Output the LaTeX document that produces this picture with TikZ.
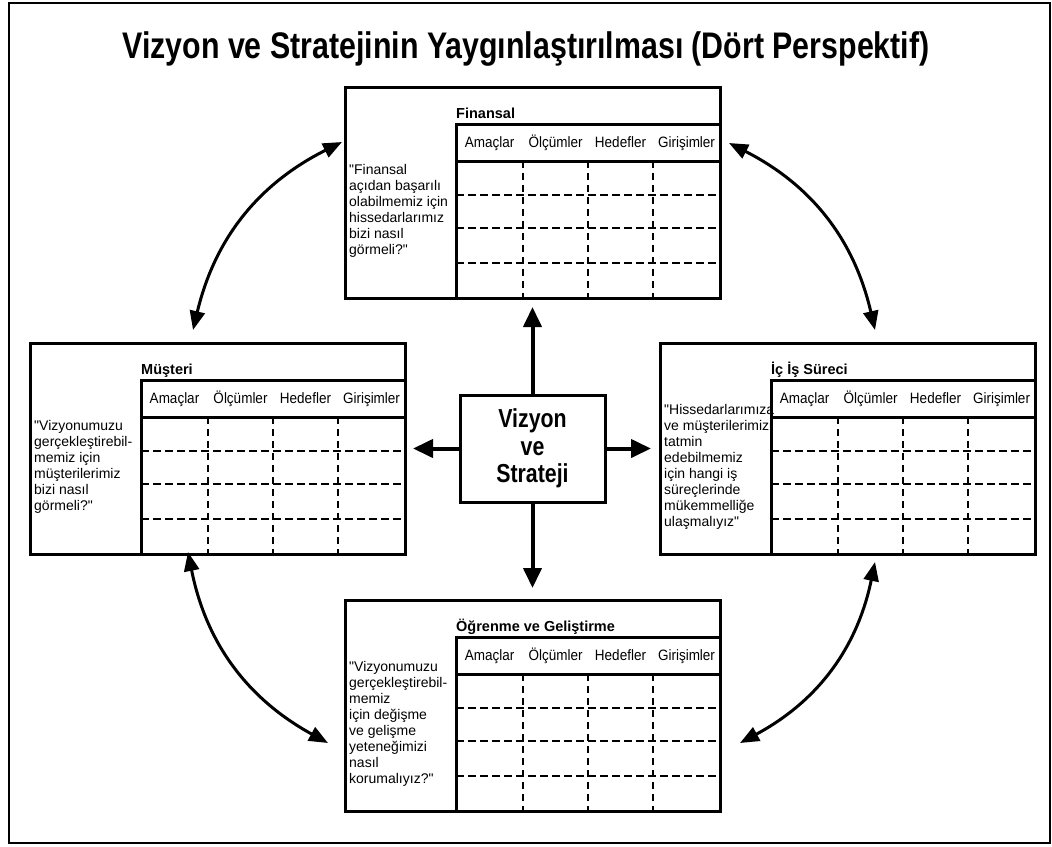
\documentclass[tikz,border=0pt]{standalone}
\usepackage{fontspec}
\setmainfont{Liberation Sans}[Ligatures=TeXOff]
\newfontfamily\condfont[FakeStretch=0.82,Ligatures=TeXOff]{Liberation Sans}
\newfontfamily\narrowfont[FakeStretch=0.9,Ligatures=TeXOff]{Liberation Sans}
\usetikzlibrary{arrows.meta}

\tikzset{
  pbox/.style={draw, line width=3pt, minimum width=375pt, minimum height=211pt,
    inner sep=0pt, outer sep=0pt},
  tline/.style={line width=3pt},
  vdash/.style={line width=2.6pt, dash pattern=on 7pt off 5pt},
  hdash/.style={line width=2.4pt, dash pattern=on 8pt off 4pt},
  ptitle/.style={font=\fontsize{14.5}{16}\selectfont\bfseries, inner sep=0pt},
  hdr/.style={font=\narrowfont\fontsize{15}{17}\selectfont, inner sep=0pt},
  question/.style={font=\fontsize{14}{16}\selectfont, align=left, inner sep=0pt},
  centerbox/.style={draw, line width=3pt, minimum width=145pt, minimum height=107pt,
    align=center, inner sep=0pt, font=\condfont\bfseries\fontsize{26}{27.5}\selectfont},
  sarrow/.style={line width=4pt, -{Triangle[length=20pt,width=18pt]}},
  carrow/.style={line width=3pt, {Triangle[length=19pt,width=15pt]}-{Triangle[length=19pt,width=15pt]}},
}

% one perspective panel: name, left, top, heading, question text
\newcommand\perspbox[5]{%
  \begin{scope}[shift={(#2,#3)}]
    \node[pbox, anchor=north west] (#1) at (0,0) {};
    \draw[tline] (111,211) -- (111,37) -- (375,37);
    \draw[tline] (111,74) -- (375,74);
    \foreach \cx in {178,243,308} \draw[vdash] (\cx,74) -- (\cx,211);
    \foreach \ry in {108,141,176} \draw[hdash] (111,\ry) -- (375,\ry);
    \node[ptitle, anchor=base west] (#1-title) at (111,31) {#4};
    \foreach \lab/\cx [count=\i] in {Amaçlar/144.5, Ölçümler/210.5, Hedefler/275.5, Girişimler/341.5}
      \node[hdr, anchor=base] (#1-h\i) at (\cx,60) {\lab};
    \node[question, anchor=west] (#1-q) at (4,124) {#5};
  \end{scope}}

\begin{document}
\begin{tikzpicture}[x=1pt, y=-1pt]
  \useasboundingbox (0,0) rectangle (1052,846);
  \fill[white] (0,0) rectangle (1052,846);
  \draw[line width=2.5pt] (9,3) rectangle (1050,843);

  \node[font=\condfont\bfseries\fontsize{37}{40}\selectfont, anchor=base, inner sep=0pt]
    (title) at (526,58) {Vizyon ve Stratejinin Yaygınlaştırılması (Dört Perspektif)};

  \perspbox{fin}{345}{87}{Finansal}
    {"Finansal\\açıdan başarılı\\olabilmemiz için\\hissedarlarımız\\bizi nasıl\\görmeli?"}
  \perspbox{mus}{30}{343}{Müşteri}
    {"Vizyonumuzu\\gerçekleştirebil-\\memiz için\\müşterilerimiz\\bizi nasıl\\görmeli?"}
  \perspbox{isr}{660}{343}{İç İş Süreci}
    {"Hissedarlarımıza\\ve müşterilerimizi\\tatmin\\edebilmemiz\\için hangi iş\\süreçlerinde\\mükemmelliğe\\ulaşmalıyız"}
  \perspbox{ogr}{345}{600}{Öğrenme ve Geliştirme}
    {"Vizyonumuzu\\gerçekleştirebil-\\memiz\\için değişme\\ve gelişme\\yeteneğimizi\\nasıl\\korumalıyız?"}

  \node[centerbox] (vs) at (532.5,448.5) {Vizyon\\ve\\Strateji};

  \draw[sarrow, shorten >=9pt] (vs) -- (fin);
  \draw[sarrow, shorten >=8pt] (vs) -- (mus);
  \draw[sarrow, shorten >=9pt] (vs) -- (isr);
  \draw[sarrow, shorten >=12pt] (vs) -- (ogr);

  % end points of the curved links between neighbouring panels
  \coordinate (fin-l) at (342,142);
  \coordinate (fin-r) at (729,143);
  \coordinate (mus-t) at (193,330);
  \coordinate (mus-b) at (188,552);
  \coordinate (isr-t) at (875,330);
  \coordinate (isr-b) at (875,562);
  \coordinate (ogr-l) at (328,743);
  \coordinate (ogr-r) at (740,743);

  \draw[carrow] (fin-l) to[bend right=25] (mus-t);
  \draw[carrow] (fin-r) to[bend left=25] (isr-t);
  \draw[carrow] (mus-b) to[bend right=25] (ogr-l);
  \draw[carrow] (isr-b) to[bend left=25] (ogr-r);
\end{tikzpicture}
\end{document}
